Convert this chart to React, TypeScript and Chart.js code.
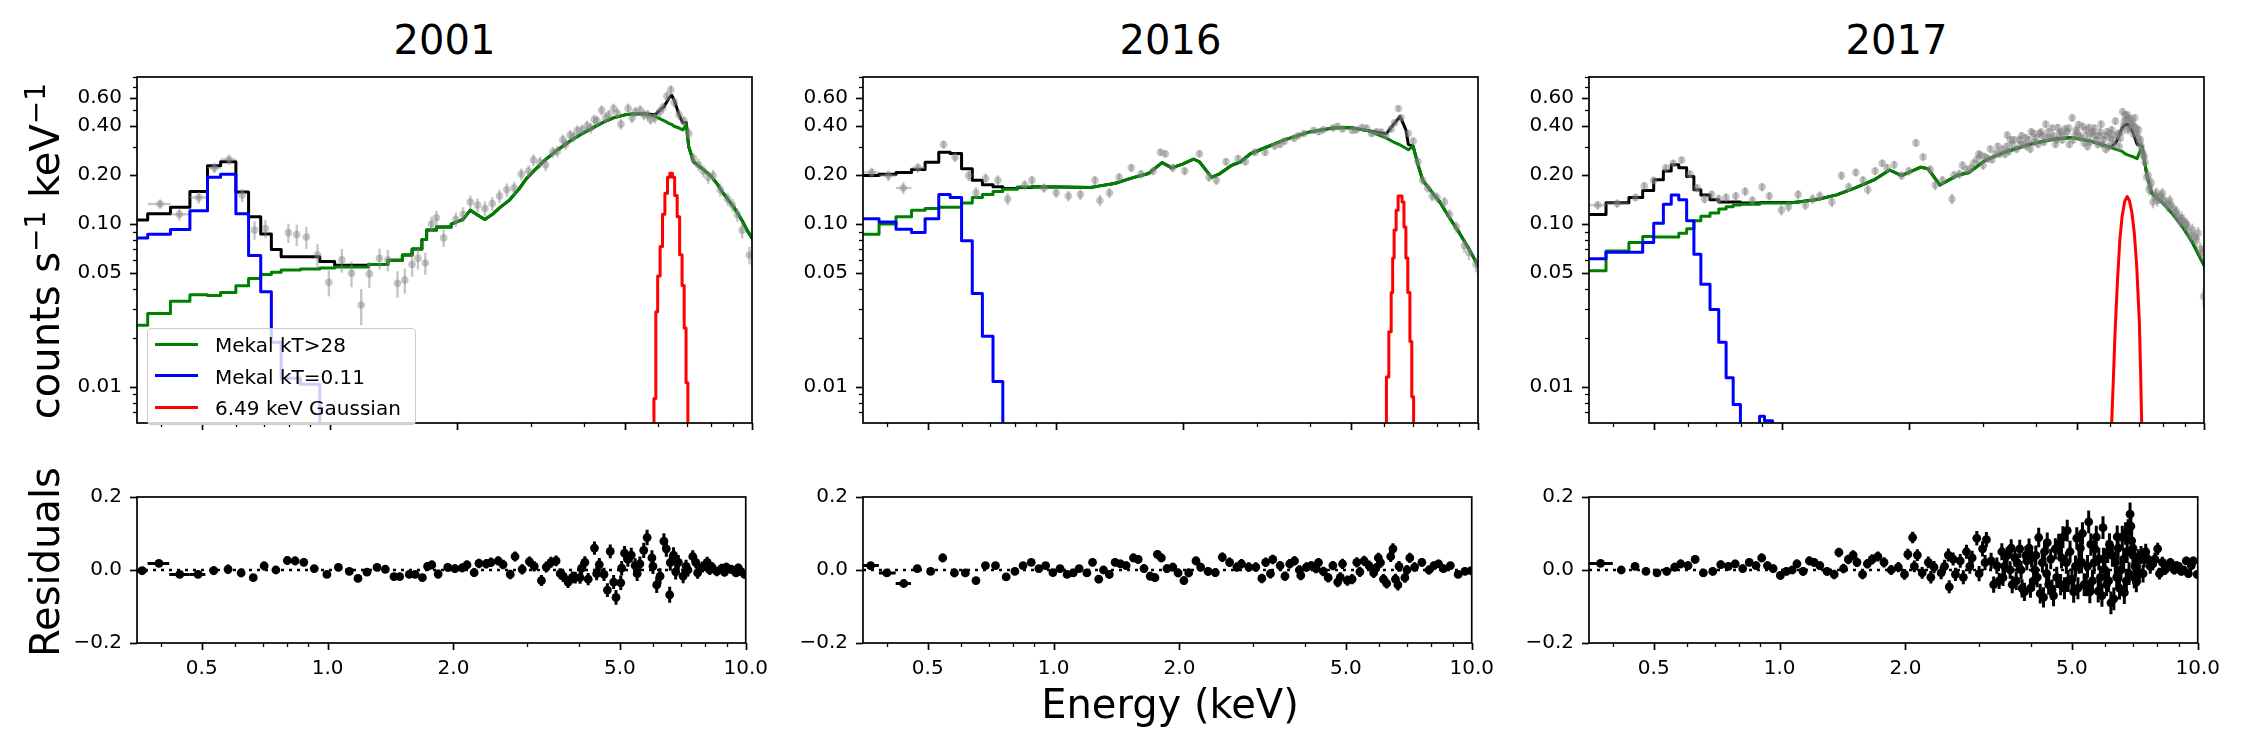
import React, { useEffect, useRef } from "react";
import { Chart, registerables } from "chart.js";

Chart.register(...registerables);
Chart.defaults.font.family = "DejaVu Sans";

// ---------- axis ticks ----------
const energyTicks = [0.5, 1, 2, 5, 10];
const energyTickLabels = ["0.5", "1.0", "2.0", "5.0", "10.0"];
const energyMinorTicks = [0.4, 0.6, 0.7, 0.8, 0.9, 3, 4, 6, 7, 8, 9];
const rateTicks = [0.01, 0.05, 0.1, 0.2, 0.4, 0.6];
const rateTickLabels = ["0.01", "0.05", "0.10", "0.20", "0.40", "0.60"];
const rateMinorTicks = [0.007, 0.008, 0.009, 0.02, 0.03, 0.04, 0.06, 0.07, 0.08, 0.09, 0.3, 0.5, 0.7, 0.8];
const residualTicks = [-0.2, 0, 0.2];
const residualTickLabels = ["\u22120.2", "0.0", "0.2"];
const years = ["2001", "2016", "2017"];
const legendLabels = ["Mekal kT>28", "Mekal kT=0.11", "6.49 keV Gaussian"];

// ---------- 2001 ----------
const modelE2001 = [0.35, 0.371, 0.42, 0.467, 0.514, 0.552, 0.6, 0.643, 0.687, 0.728, 0.768, 0.853, 0.948, 1.028, 1.236, 1.374, 1.487, 1.568, 1.654, 1.697, 1.79, 1.94, 2.07, 2.154, 2.24, 2.33, 2.43, 2.525, 2.66, 2.81, 2.92, 3.04, 3.25, 3.47, 3.71, 3.96, 4.23, 4.46, 4.7, 5.0, 5.3, 5.58, 5.89, 6.2, 6.37, 6.46, 6.54, 6.72, 6.86, 6.99, 7.08, 7.27, 7.58, 7.98, 8.27, 8.53, 8.75, 9.1, 9.48, 9.73, 10.06];
const total2001 = [0.106, 0.116, 0.127, 0.159, 0.229, 0.242, 0.158, 0.111, 0.087, 0.07, 0.063, 0.063, 0.059, 0.056, 0.0566, 0.06, 0.0646, 0.0705, 0.0805, 0.092, 0.096, 0.1, 0.107, 0.122, 0.114, 0.107, 0.115, 0.126, 0.14, 0.165, 0.19, 0.212, 0.25, 0.287, 0.325, 0.36, 0.395, 0.425, 0.45, 0.47, 0.478, 0.478, 0.47, 0.53, 0.6, 0.62, 0.58, 0.47, 0.42, 0.42, 0.3, 0.242, 0.222, 0.199, 0.177, 0.156, 0.143, 0.125, 0.105, 0.092, 0.08];
const hot2001 = [0.0239, 0.0283, 0.0336, 0.0369, 0.0365, 0.038, 0.0419, 0.0464, 0.0491, 0.0507, 0.0523, 0.053, 0.0538, 0.0545, 0.0566, 0.06, 0.0646, 0.0705, 0.0805, 0.092, 0.096, 0.1, 0.107, 0.122, 0.114, 0.107, 0.115, 0.126, 0.14, 0.165, 0.19, 0.212, 0.25, 0.287, 0.325, 0.36, 0.395, 0.425, 0.45, 0.47, 0.478, 0.475, 0.46, 0.432, 0.415, 0.41, 0.4, 0.39, 0.38, 0.41, 0.3, 0.242, 0.222, 0.199, 0.177, 0.156, 0.143, 0.125, 0.105, 0.092, 0.08];
const coolE2001 = [0.35, 0.371, 0.42, 0.467, 0.514, 0.552, 0.6, 0.643, 0.687, 0.728, 0.768, 0.853, 0.948, 1.028];
const cool2001 = [0.0824, 0.0868, 0.0927, 0.121, 0.194, 0.203, 0.116, 0.0642, 0.0385, 0.0188, 0.0113, 0.0104, 0.002, 0.001];
const lineE2001 = [5.8, 5.86, 5.92, 5.98, 6.06, 6.14, 6.22, 6.31, 6.39, 6.48, 6.56, 6.65, 6.74, 6.83, 6.91, 6.98, 7.05, 7.12];
const line2001 = [0.003, 0.0085, 0.029, 0.048, 0.073, 0.115, 0.155, 0.194, 0.206, 0.194, 0.15, 0.111, 0.065, 0.042, 0.023, 0.0106, 0.003, 0.002];

const dataE2001 = [0.397, 0.441, 0.49, 0.534, 0.578, 0.621, 0.664, 0.705, 0.799, 0.836, 0.881, 0.936, 0.996, 1.069, 1.127, 1.188, 1.242, 1.313, 1.374, 1.448, 1.507, 1.568, 1.619, 1.685, 1.743, 1.79, 1.862, 1.99, 2.07, 2.154, 2.241, 2.332, 2.427, 2.525, 2.628, 2.734, 2.844, 2.959, 3.038, 3.15, 3.246, 3.377, 3.46, 3.566, 3.62, 3.71, 3.78, 3.859, 3.96, 4.069, 4.15, 4.233, 4.3, 4.406, 4.5, 4.582, 4.705, 4.8, 4.895, 5.091, 5.2, 5.296, 5.438, 5.55, 5.657, 5.75, 5.886, 6.044, 6.15, 6.289, 6.423, 6.543, 6.719, 6.899, 7.084, 7.275, 7.47, 7.672, 7.878, 8.089, 8.417, 8.754, 8.989, 9.23, 9.478, 9.862];
const dataRate2001 = [0.133, 0.115, 0.146, 0.222, 0.25, 0.151, 0.092, 0.094, 0.0887, 0.0864, 0.0834, 0.0646, 0.044, 0.0604, 0.05, 0.0319, 0.0495, 0.0617, 0.0604, 0.0434, 0.0454, 0.0566, 0.0617, 0.0578, 0.1004, 0.1096, 0.0824, 0.107, 0.115, 0.137, 0.131, 0.125, 0.134, 0.149, 0.163, 0.167, 0.203, 0.212, 0.248, 0.24, 0.232, 0.277, 0.28, 0.33, 0.31, 0.353, 0.345, 0.377, 0.38, 0.403, 0.39, 0.44, 0.43, 0.502, 0.45, 0.47, 0.514, 0.48, 0.412, 0.514, 0.45, 0.491, 0.502, 0.47, 0.47, 0.44, 0.45, 0.491, 0.52, 0.612, 0.669, 0.561, 0.47, 0.43, 0.361, 0.253, 0.232, 0.212, 0.194, 0.199, 0.163, 0.143, 0.131, 0.1146, 0.0919, 0.0646];
const dataErr2001 = [0.009, 0.01, 0.012, 0.016, 0.018, 0.014, 0.012, 0.012, 0.012, 0.013, 0.013, 0.011, 0.008, 0.01, 0.009, 0.008, 0.009, 0.009, 0.009, 0.008, 0.008, 0.009, 0.009, 0.009, 0.011, 0.011, 0.01, 0.011, 0.012, 0.013, 0.013, 0.013, 0.013, 0.014, 0.015, 0.015, 0.017, 0.018, 0.02, 0.02, 0.02, 0.022, 0.022, 0.025, 0.024, 0.026, 0.026, 0.028, 0.028, 0.03, 0.029, 0.032, 0.031, 0.036, 0.033, 0.034, 0.037, 0.035, 0.031, 0.037, 0.033, 0.036, 0.037, 0.035, 0.035, 0.033, 0.034, 0.036, 0.038, 0.043, 0.046, 0.04, 0.035, 0.032, 0.028, 0.021, 0.02, 0.018, 0.017, 0.017, 0.015, 0.013, 0.012, 0.011, 0.01, 0.008];
const dataBinLo2001 = [0.371, 0.42, 0.467, 0.514, 0.552];
const dataBinHi2001 = [0.42, 0.467, 0.514, 0.552, 0.6];

const resE2001 = [0.36, 0.395, 0.443, 0.49, 0.534, 0.578, 0.621, 0.664, 0.705, 0.752, 0.801, 0.836, 0.877, 0.929, 0.996, 1.061, 1.127, 1.182, 1.242, 1.313, 1.374, 1.441, 1.487, 1.568, 1.619, 1.685, 1.734, 1.775, 1.838, 1.938, 2.016, 2.098, 2.154, 2.241, 2.301, 2.395, 2.459, 2.559, 2.628, 2.734, 2.807, 2.92, 3.038, 3.119, 3.246, 3.333, 3.422, 3.519, 3.6, 3.661, 3.759, 3.85, 3.911, 4.016, 4.05, 4.123, 4.2, 4.347, 4.4, 4.464, 4.582, 4.668, 4.742, 4.831, 4.895, 5.025, 5.05, 5.131, 5.226, 5.324, 5.438, 5.5, 5.583, 5.702, 5.809, 5.965, 6.0, 6.125, 6.239, 6.372, 6.457, 6.578, 6.6, 6.719, 6.8, 6.899, 7.084, 7.2, 7.275, 7.47, 7.6, 7.672, 7.878, 8.089, 8.2, 8.306, 8.528, 8.754, 8.9, 8.989, 9.23, 9.478, 9.6, 9.732, 9.94];
const res2001 = [-0.002, 0.018, -0.012, -0.012, -0.002, 0.002, -0.008, -0.021, 0.011, 0.0, 0.026, 0.025, 0.021, 0.004, -0.012, 0.007, -0.004, -0.023, -0.006, 0.007, 0.002, -0.018, -0.018, -0.012, -0.012, -0.021, 0.01, 0.014, -0.011, 0.007, 0.004, 0.006, 0.014, -0.007, 0.018, 0.017, 0.021, 0.025, 0.015, -0.012, 0.037, 0.002, 0.023, 0.01, -0.029, 0.008, 0.021, 0.025, -0.01, -0.017, -0.033, -0.02, -0.021, -0.021, 0.005, 0.021, -0.025, 0.06, -0.01, 0.015, -0.012, -0.055, 0.051, -0.033, -0.075, -0.035, 0.005, 0.046, 0.029, 0.041, 0.012, -0.01, 0.017, 0.054, 0.089, 0.033, 0.01, -0.041, -0.017, 0.079, 0.058, -0.068, 0.02, 0.041, -0.005, 0.021, -0.017, 0.01, 0.0, 0.037, 0.02, -0.008, 0.008, 0.021, 0.0, 0.008, -0.004, 0.004, -0.006, 0.008, 0.002, -0.008, 0.006, -0.004, -0.012];
const resErr2001 = [0.008, 0.008, 0.008, 0.008, 0.012, 0.013, 0.012, 0.01, 0.012, 0.01, 0.012, 0.012, 0.011, 0.01, 0.01, 0.01, 0.01, 0.01, 0.01, 0.01, 0.01, 0.01, 0.01, 0.01, 0.01, 0.01, 0.012, 0.012, 0.012, 0.012, 0.012, 0.012, 0.012, 0.012, 0.013, 0.013, 0.013, 0.013, 0.013, 0.013, 0.014, 0.014, 0.014, 0.014, 0.015, 0.015, 0.015, 0.015, 0.015, 0.016, 0.016, 0.016, 0.016, 0.017, 0.017, 0.017, 0.017, 0.018, 0.018, 0.018, 0.018, 0.019, 0.019, 0.019, 0.02, 0.02, 0.02, 0.02, 0.02, 0.02, 0.02, 0.02, 0.02, 0.021, 0.021, 0.021, 0.021, 0.022, 0.022, 0.022, 0.022, 0.022, 0.022, 0.021, 0.021, 0.02, 0.019, 0.018, 0.018, 0.017, 0.016, 0.016, 0.015, 0.015, 0.014, 0.014, 0.013, 0.013, 0.012, 0.012, 0.012, 0.011, 0.011, 0.011, 0.011];
const resBinLo2001 = [0.35, 0.371, 0.418, 0.467];
const resBinHi2001 = [0.371, 0.418, 0.467, 0.51];

// ---------- 2016 ----------
const modelE2016 = [0.35, 0.382, 0.419, 0.456, 0.491, 0.529, 0.563, 0.599, 0.635, 0.671, 0.711, 0.75, 0.812, 0.879, 1.03, 1.21, 1.273, 1.378, 1.533, 1.66, 1.787, 1.884, 1.997, 2.122, 2.19, 2.341, 2.436, 2.602, 2.743, 2.892, 3.132, 3.481, 3.975, 4.536, 4.976, 5.46, 6.069, 6.31, 6.54, 6.75, 6.84, 7.02, 7.21, 7.4, 7.7, 8.12, 8.56, 9.03, 9.52, 10.06];
const total2016 = [0.199, 0.203, 0.208, 0.217, 0.24, 0.277, 0.272, 0.219, 0.186, 0.175, 0.17, 0.166, 0.168, 0.17, 0.169, 0.168, 0.172, 0.178, 0.194, 0.205, 0.239, 0.222, 0.234, 0.251, 0.242, 0.194, 0.203, 0.229, 0.242, 0.271, 0.295, 0.33, 0.368, 0.39, 0.393, 0.377, 0.36, 0.41, 0.46, 0.38, 0.31, 0.302, 0.232, 0.186, 0.163, 0.137, 0.1096, 0.0887, 0.0705, 0.054];
const hot2016 = [0.0868, 0.1004, 0.111, 0.122, 0.125, 0.127, 0.127, 0.135, 0.146, 0.152, 0.159, 0.164, 0.169, 0.17, 0.169, 0.168, 0.172, 0.178, 0.194, 0.205, 0.239, 0.222, 0.234, 0.251, 0.242, 0.194, 0.203, 0.229, 0.242, 0.271, 0.295, 0.33, 0.368, 0.39, 0.393, 0.377, 0.338, 0.32, 0.307, 0.293, 0.287, 0.302, 0.232, 0.186, 0.163, 0.137, 0.1096, 0.0887, 0.0705, 0.054];
const coolE2016 = [0.35, 0.382, 0.419, 0.456, 0.491, 0.529, 0.563, 0.599, 0.635, 0.671, 0.711, 0.75, 0.812];
const cool2016 = [0.108, 0.103, 0.093, 0.089, 0.108, 0.152, 0.146, 0.079, 0.0375, 0.0205, 0.0108, 0.002, 0.001];
const lineE2016 = [6.0, 6.07, 6.15, 6.23, 6.28, 6.33, 6.4, 6.47, 6.61, 6.68, 6.75, 6.82, 6.9, 6.97, 7.04, 7.11];
const line2016 = [0.003, 0.0115, 0.0218, 0.038, 0.062, 0.092, 0.122, 0.149, 0.137, 0.096, 0.062, 0.038, 0.019, 0.0087, 0.003, 0.002];

const dataE2016 = [0.367, 0.402, 0.436, 0.472, 0.543, 0.578, 0.623, 0.648, 0.683, 0.73, 0.77, 0.845, 0.879, 0.939, 1.003, 1.072, 1.145, 1.239, 1.273, 1.341, 1.414, 1.511, 1.593, 1.702, 1.771, 1.818, 1.893, 2.022, 2.19, 2.307, 2.402, 2.532, 2.705, 2.814, 2.967, 3.132, 3.302, 3.4, 3.481, 3.67, 3.75, 3.87, 4.08, 4.2, 4.3, 4.536, 4.65, 4.78, 5.04, 5.15, 5.31, 5.45, 5.6, 5.75, 5.9, 6.05, 6.23, 6.35, 6.48, 6.57, 6.84, 7.02, 7.21, 7.4, 7.6, 7.79, 8.0, 8.33, 8.56, 8.89, 9.28, 9.52, 9.89];
const dataRate2016 = [0.208, 0.199, 0.167, 0.222, 0.309, 0.258, 0.199, 0.156, 0.191, 0.186, 0.143, 0.174, 0.186, 0.167, 0.156, 0.149, 0.152, 0.186, 0.14, 0.156, 0.194, 0.222, 0.203, 0.212, 0.277, 0.271, 0.222, 0.212, 0.271, 0.194, 0.186, 0.242, 0.253, 0.242, 0.277, 0.277, 0.302, 0.31, 0.324, 0.338, 0.35, 0.361, 0.377, 0.37, 0.38, 0.39, 0.4, 0.385, 0.377, 0.38, 0.393, 0.39, 0.361, 0.37, 0.368, 0.35, 0.385, 0.42, 0.514, 0.45, 0.361, 0.324, 0.242, 0.186, 0.167, 0.149, 0.146, 0.137, 0.1146, 0.096, 0.0737, 0.067, 0.0566];
const dataErr2016 = [0.015, 0.015, 0.014, 0.015, 0.018, 0.017, 0.015, 0.013, 0.014, 0.014, 0.012, 0.012, 0.012, 0.011, 0.011, 0.011, 0.011, 0.012, 0.011, 0.011, 0.012, 0.013, 0.012, 0.012, 0.014, 0.014, 0.013, 0.012, 0.014, 0.012, 0.012, 0.013, 0.013, 0.013, 0.014, 0.014, 0.015, 0.015, 0.015, 0.016, 0.016, 0.016, 0.017, 0.017, 0.017, 0.017, 0.017, 0.017, 0.017, 0.017, 0.018, 0.018, 0.017, 0.017, 0.017, 0.017, 0.018, 0.019, 0.022, 0.02, 0.017, 0.016, 0.013, 0.012, 0.011, 0.011, 0.011, 0.01, 0.009, 0.008, 0.007, 0.007, 0.006];
const dataBinLo2016 = [0.35, 0.382, 0.419, 0.456];
const dataBinHi2016 = [0.382, 0.419, 0.456, 0.491];

const resE2016 = [0.365, 0.399, 0.438, 0.472, 0.508, 0.543, 0.579, 0.615, 0.652, 0.687, 0.726, 0.77, 0.808, 0.845, 0.884, 0.922, 0.957, 0.996, 1.036, 1.077, 1.114, 1.151, 1.201, 1.239, 1.282, 1.316, 1.359, 1.403, 1.445, 1.491, 1.552, 1.593, 1.645, 1.702, 1.747, 1.771, 1.81, 1.867, 1.928, 1.985, 2.049, 2.104, 2.19, 2.247, 2.341, 2.436, 2.532, 2.635, 2.743, 2.814, 2.929, 3.046, 3.148, 3.215, 3.3, 3.343, 3.481, 3.575, 3.67, 3.769, 3.87, 3.9, 4.026, 4.133, 4.244, 4.3, 4.416, 4.536, 4.655, 4.78, 4.85, 4.908, 5.04, 5.175, 5.31, 5.4, 5.53, 5.678, 5.826, 5.9, 5.98, 6.05, 6.15, 6.26, 6.4, 6.48, 6.57, 6.66, 6.7, 6.92, 7.0, 7.11, 7.3, 7.6, 7.9, 8.12, 8.33, 8.56, 8.89, 9.28, 9.63, 9.97];
const res2016 = [0.012, -0.008, -0.037, 0.004, -0.004, 0.033, -0.008, -0.008, -0.029, 0.012, 0.012, -0.019, -0.004, 0.012, 0.021, 0.004, 0.012, -0.007, 0.004, -0.012, -0.008, 0.004, -0.008, 0.021, -0.025, 0.0, -0.012, 0.021, 0.017, 0.012, 0.033, 0.029, 0.004, -0.017, -0.021, 0.043, 0.033, 0.004, 0.008, -0.008, -0.029, -0.008, 0.025, 0.008, -0.004, -0.007, 0.035, 0.021, 0.008, 0.017, 0.008, 0.008, -0.023, 0.021, -0.01, 0.029, 0.012, -0.017, 0.017, 0.025, 0.0, -0.015, 0.008, 0.012, 0.004, 0.02, -0.004, -0.021, 0.012, -0.033, -0.02, 0.017, -0.029, -0.025, 0.021, -0.005, 0.025, 0.012, -0.008, 0.005, 0.033, 0.02, -0.025, -0.037, 0.037, 0.058, -0.025, -0.041, 0.01, -0.021, 0.0, 0.033, 0.008, 0.021, 0.0, 0.012, 0.017, 0.004, 0.012, -0.012, -0.004, -0.002];
const resErr2016 = [0.01, 0.01, 0.01, 0.01, 0.01, 0.012, 0.012, 0.011, 0.01, 0.01, 0.01, 0.01, 0.01, 0.01, 0.01, 0.01, 0.01, 0.01, 0.01, 0.01, 0.01, 0.01, 0.01, 0.011, 0.011, 0.011, 0.011, 0.011, 0.011, 0.011, 0.012, 0.012, 0.012, 0.012, 0.012, 0.012, 0.012, 0.012, 0.012, 0.012, 0.012, 0.012, 0.012, 0.012, 0.012, 0.012, 0.013, 0.013, 0.013, 0.013, 0.013, 0.013, 0.013, 0.013, 0.013, 0.013, 0.013, 0.013, 0.013, 0.013, 0.013, 0.013, 0.013, 0.013, 0.013, 0.013, 0.013, 0.013, 0.013, 0.014, 0.014, 0.014, 0.014, 0.014, 0.014, 0.014, 0.014, 0.014, 0.014, 0.014, 0.014, 0.014, 0.014, 0.014, 0.015, 0.015, 0.015, 0.015, 0.015, 0.014, 0.014, 0.014, 0.013, 0.012, 0.012, 0.011, 0.011, 0.011, 0.01, 0.01, 0.01, 0.01];
const resBinLo2016 = [0.35, 0.382, 0.419];
const resBinHi2016 = [0.382, 0.419, 0.456];

// ---------- 2017 ----------
const modelE2017 = [0.35, 0.384, 0.435, 0.469, 0.498, 0.525, 0.548, 0.571, 0.596, 0.62, 0.644, 0.677, 0.71, 0.739, 0.768, 0.799, 0.842, 0.887, 1.038, 1.094, 1.215, 1.35, 1.499, 1.665, 1.801, 1.923, 2.135, 2.22, 2.371, 2.598, 2.775, 3.042, 3.378, 3.85, 4.389, 4.874, 5.414, 6.013, 6.2, 6.4, 6.503, 6.62, 6.78, 6.945, 7.13, 7.32, 7.51, 8.02, 8.45, 8.91, 9.39, 10.15];
const total2017 = [0.1146, 0.1356, 0.146, 0.161, 0.1878, 0.212, 0.232, 0.222, 0.1963, 0.163, 0.151, 0.1415, 0.137, 0.137, 0.137, 0.135, 0.135, 0.136, 0.1349, 0.137, 0.142, 0.1515, 0.168, 0.1887, 0.2153, 0.199, 0.224, 0.2195, 0.1741, 0.199, 0.208, 0.248, 0.277, 0.309, 0.333, 0.341, 0.323, 0.296, 0.32, 0.39, 0.41, 0.41, 0.37, 0.31, 0.302, 0.203, 0.156, 0.134, 0.1146, 0.096, 0.0771, 0.0518];
const hot2017 = [0.0518, 0.0684, 0.0771, 0.0841, 0.0834, 0.0834, 0.0834, 0.0879, 0.0939, 0.1049, 0.112, 0.1171, 0.1241, 0.1279, 0.131, 0.1325, 0.1325, 0.1349, 0.1349, 0.137, 0.142, 0.1515, 0.168, 0.1887, 0.2153, 0.199, 0.224, 0.2195, 0.1741, 0.199, 0.208, 0.248, 0.277, 0.309, 0.333, 0.341, 0.323, 0.296, 0.288, 0.28, 0.271, 0.266, 0.26, 0.253, 0.302, 0.203, 0.156, 0.134, 0.1146, 0.096, 0.0771, 0.0518];
const coolE2017 = [0.35, 0.384, 0.435, 0.469, 0.498, 0.525, 0.548, 0.571, 0.596, 0.62, 0.644, 0.677, 0.71, 0.739, 0.768, 0.799, 0.887, 0.911, 0.952, 1.0];
const cool2017 = [0.0613, 0.0672, 0.0672, 0.0771, 0.1013, 0.1325, 0.151, 0.1415, 0.1049, 0.0654, 0.0428, 0.0299, 0.0188, 0.0114, 0.0078, 0.0059, 0.0066, 0.0062, 0.003, 0.001];
const lineE2017 = [6.03, 6.1, 6.16, 6.24, 6.32, 6.4, 6.49, 6.58, 6.66, 6.75, 6.84, 6.93, 7.03, 7.08, 7.13];
const line2017 = [0.005, 0.011, 0.022, 0.045, 0.08, 0.112, 0.138, 0.148, 0.14, 0.118, 0.088, 0.055, 0.025, 0.012, 0.005];

const dataE2017 = [0.367, 0.408, 0.451, 0.473, 0.498, 0.532, 0.554, 0.58, 0.607, 0.631, 0.657, 0.683, 0.71, 0.739, 0.779, 0.82, 0.853, 0.899, 0.935, 0.999, 1.038, 1.094, 1.138, 1.184, 1.231, 1.315, 1.386, 1.441, 1.499, 1.559, 1.6, 1.665, 1.731, 1.777, 1.848, 1.923, 2.0, 2.08, 2.163, 2.25, 2.31, 2.403, 2.532, 2.633, 2.739, 2.848, 2.9, 2.962, 3.0, 3.081, 3.12, 3.205, 3.25, 3.333, 3.38, 3.422, 3.45, 3.513, 3.55, 3.654, 3.7, 3.75, 3.8, 3.85, 3.9, 3.952, 4.0, 4.05, 4.111, 4.15, 4.22, 4.28, 4.332, 4.4, 4.45, 4.506, 4.55, 4.62, 4.686, 4.75, 4.8, 4.874, 4.95, 5.003, 5.05, 5.12, 5.204, 5.25, 5.3, 5.343, 5.4, 5.5, 5.557, 5.6, 5.65, 5.705, 5.78, 5.856, 5.9, 5.95, 6.013, 6.08, 6.17, 6.25, 6.3, 6.334, 6.418, 6.45, 6.503, 6.55, 6.6, 6.641, 6.7, 6.763, 6.8, 6.852, 6.9, 6.98, 7.036, 7.1, 7.185, 7.25, 7.32, 7.414, 7.45, 7.57, 7.65, 7.71, 7.8, 7.915, 8.0, 8.125, 8.2, 8.342, 8.45, 8.564, 8.7, 8.792, 8.9, 9.023, 9.15, 9.39, 9.5, 9.685, 9.8, 9.893, 9.98];
const dataRate2017 = [0.131, 0.134, 0.146, 0.172, 0.186, 0.222, 0.237, 0.248, 0.203, 0.167, 0.143, 0.152, 0.143, 0.146, 0.149, 0.159, 0.14, 0.169, 0.149, 0.122, 0.128, 0.152, 0.131, 0.143, 0.149, 0.137, 0.199, 0.169, 0.208, 0.186, 0.163, 0.212, 0.237, 0.222, 0.232, 0.199, 0.212, 0.316, 0.259, 0.217, 0.174, 0.186, 0.143, 0.203, 0.217, 0.237, 0.25, 0.265, 0.23, 0.253, 0.29, 0.271, 0.3, 0.289, 0.27, 0.353, 0.28, 0.309, 0.33, 0.33, 0.35, 0.31, 0.302, 0.33, 0.37, 0.361, 0.34, 0.31, 0.369, 0.35, 0.412, 0.37, 0.338, 0.35, 0.31, 0.393, 0.36, 0.33, 0.385, 0.37, 0.31, 0.45, 0.35, 0.369, 0.41, 0.34, 0.316, 0.38, 0.3, 0.393, 0.36, 0.39, 0.33, 0.31, 0.35, 0.412, 0.33, 0.289, 0.37, 0.3, 0.361, 0.33, 0.43, 0.36, 0.3, 0.338, 0.491, 0.4, 0.47, 0.44, 0.38, 0.45, 0.41, 0.412, 0.36, 0.45, 0.39, 0.34, 0.316, 0.3, 0.265, 0.24, 0.194, 0.163, 0.17, 0.137, 0.15, 0.156, 0.145, 0.149, 0.14, 0.137, 0.13, 0.131, 0.125, 0.1171, 0.11, 0.1049, 0.105, 0.1004, 0.095, 0.0919, 0.083, 0.0879, 0.07, 0.0672, 0.036];
const dataErr2017 = [0.008, 0.008, 0.008, 0.009, 0.01, 0.011, 0.012, 0.012, 0.011, 0.01, 0.009, 0.009, 0.009, 0.009, 0.009, 0.01, 0.009, 0.01, 0.009, 0.009, 0.009, 0.01, 0.009, 0.01, 0.01, 0.01, 0.012, 0.011, 0.012, 0.012, 0.011, 0.012, 0.013, 0.013, 0.013, 0.012, 0.013, 0.016, 0.014, 0.013, 0.012, 0.012, 0.011, 0.013, 0.013, 0.014, 0.015, 0.015, 0.014, 0.015, 0.016, 0.015, 0.017, 0.016, 0.016, 0.018, 0.016, 0.017, 0.018, 0.018, 0.018, 0.017, 0.017, 0.018, 0.019, 0.019, 0.018, 0.017, 0.019, 0.018, 0.02, 0.019, 0.018, 0.018, 0.017, 0.02, 0.019, 0.018, 0.02, 0.019, 0.017, 0.022, 0.019, 0.019, 0.021, 0.019, 0.018, 0.02, 0.017, 0.02, 0.019, 0.02, 0.019, 0.018, 0.019, 0.021, 0.019, 0.017, 0.02, 0.018, 0.02, 0.019, 0.022, 0.02, 0.018, 0.019, 0.024, 0.021, 0.023, 0.022, 0.021, 0.023, 0.022, 0.022, 0.02, 0.023, 0.021, 0.02, 0.019, 0.018, 0.017, 0.016, 0.014, 0.013, 0.013, 0.012, 0.012, 0.012, 0.012, 0.012, 0.011, 0.011, 0.011, 0.011, 0.01, 0.01, 0.01, 0.01, 0.009, 0.009, 0.009, 0.009, 0.008, 0.008, 0.007, 0.007, 0.005];
const dataBinLo2017 = [0.35, 0.384];
const dataBinHi2017 = [0.384, 0.435];
// the 2017 spectrum is finely binned above 2.5 keV: the remaining channels
const denseE2017 = [2.56, 2.68, 2.8, 2.93, 3.03, 3.15, 3.28, 3.41, 3.48, 3.6, 3.68, 3.78, 3.88, 3.97, 4.08, 4.18, 4.25, 4.37, 4.48, 4.58, 4.66, 4.78, 4.9, 4.98, 5.08, 5.16, 5.28, 5.37, 5.45, 5.53, 5.68, 5.74, 5.83, 5.98, 6.05, 6.12, 6.2, 6.38, 6.48, 6.58, 6.68, 6.73, 6.83, 6.94, 7.0, 7.07, 7.15, 7.22, 7.37, 7.5, 7.75, 7.97, 8.3, 8.6, 8.85, 9.1, 9.3, 9.6];
const denseRate2017 = [0.2, 0.23, 0.22, 0.27, 0.26, 0.25, 0.27, 0.3, 0.33, 0.29, 0.31, 0.34, 0.29, 0.32, 0.36, 0.32, 0.34, 0.39, 0.33, 0.37, 0.35, 0.39, 0.33, 0.38, 0.35, 0.4, 0.35, 0.32, 0.37, 0.35, 0.37, 0.31, 0.35, 0.34, 0.38, 0.31, 0.35, 0.37, 0.43, 0.47, 0.39, 0.44, 0.4, 0.36, 0.38, 0.33, 0.28, 0.26, 0.2, 0.18, 0.14, 0.155, 0.14, 0.12, 0.11, 0.1, 0.085, 0.08];
const denseErr2017 = [0.013, 0.014, 0.014, 0.015, 0.015, 0.015, 0.016, 0.017, 0.018, 0.017, 0.017, 0.018, 0.017, 0.018, 0.019, 0.018, 0.018, 0.02, 0.018, 0.019, 0.019, 0.02, 0.018, 0.02, 0.019, 0.021, 0.019, 0.018, 0.02, 0.019, 0.02, 0.018, 0.019, 0.019, 0.02, 0.018, 0.019, 0.02, 0.022, 0.023, 0.021, 0.022, 0.021, 0.02, 0.02, 0.019, 0.017, 0.017, 0.015, 0.014, 0.012, 0.012, 0.011, 0.01, 0.01, 0.009, 0.008, 0.008];

const resE2017 = [0.373, 0.418, 0.451, 0.479, 0.509, 0.537, 0.561, 0.58, 0.604, 0.628, 0.657, 0.692, 0.723, 0.754, 0.783, 0.816, 0.846, 0.878, 0.906, 0.935, 0.965, 1.004, 1.038, 1.072, 1.1, 1.138, 1.178, 1.209, 1.248, 1.298, 1.35, 1.386, 1.422, 1.46, 1.499, 1.531, 1.579, 1.621, 1.665, 1.718, 1.777, 1.848, 1.923, 1.989, 2.026, 2.08, 2.135, 2.192, 2.268, 2.34, 2.434, 2.532, 2.545, 2.633, 2.704, 2.798, 2.887, 2.962, 3.058, 3.123, 3.205, 3.308, 3.35, 3.422, 3.5, 3.559, 3.6, 3.654, 3.7, 3.752, 3.8, 3.85, 3.902, 3.95, 4.005, 4.05, 4.1, 4.165, 4.2, 4.25, 4.277, 4.366, 4.4, 4.482, 4.565, 4.6, 4.65, 4.722, 4.8, 4.874, 4.95, 5.003, 5.05, 5.137, 5.2, 5.274, 5.35, 5.414, 5.485, 5.55, 5.6, 5.676, 5.781, 5.85, 5.935, 5.95, 6.05, 6.091, 6.15, 6.2, 6.3, 6.35, 6.418, 6.5, 6.6, 6.675, 6.75, 6.817, 6.889, 6.95, 6.998, 7.05, 7.13, 7.2, 7.32, 7.4, 7.51, 7.6, 7.81, 8.02, 8.1, 8.23, 8.45, 8.6, 8.79, 9.0, 9.14, 9.39, 9.5, 9.76, 9.97];
const res2017 = [0.018, 0.0, 0.01, -0.004, -0.008, -0.004, 0.008, 0.017, 0.012, 0.029, -0.008, -0.004, 0.015, 0.01, 0.017, 0.004, 0.021, 0.012, 0.033, 0.012, 0.004, -0.015, -0.004, 0.0, 0.017, -0.004, 0.025, 0.021, 0.012, -0.004, -0.012, 0.048, 0.004, 0.029, 0.041, 0.021, -0.012, 0.017, 0.029, 0.037, 0.021, 0.0, 0.008, -0.012, 0.043, 0.089, 0.041, -0.008, 0.021, 0.008, -0.008, 0.041, -0.046, -0.012, 0.025, 0.05, 0.033, 0.087, 0.058, 0.083, 0.025, 0.012, -0.03, -0.021, 0.04, 0.0, -0.04, 0.033, 0.02, 0.058, -0.05, -0.06, 0.025, 0.06, 0.033, -0.03, 0.04, 0.089, -0.065, 0.02, -0.075, 0.075, -0.04, -0.054, 0.058, -0.02, 0.07, 0.033, -0.05, 0.108, 0.05, -0.025, -0.06, 0.087, 0.02, 0.021, -0.04, -0.041, 0.132, 0.07, -0.03, 0.058, -0.058, -0.02, 0.116, 0.03, -0.04, 0.05, 0.07, -0.09, -0.079, 0.02, 0.091, -0.05, 0.09, -0.062, -0.03, 0.108, 0.153, 0.08, 0.041, -0.02, -0.033, 0.03, 0.041, -0.01, 0.05, 0.03, 0.017, 0.058, -0.01, 0.021, 0.008, 0.02, 0.0, 0.01, -0.004, 0.025, -0.01, 0.025, -0.012];
const resErr2017 = [0.006, 0.01, 0.01, 0.01, 0.011, 0.011, 0.012, 0.012, 0.012, 0.012, 0.011, 0.011, 0.011, 0.011, 0.011, 0.011, 0.011, 0.011, 0.012, 0.011, 0.011, 0.011, 0.011, 0.011, 0.012, 0.012, 0.012, 0.012, 0.012, 0.012, 0.013, 0.013, 0.013, 0.013, 0.013, 0.013, 0.013, 0.013, 0.014, 0.014, 0.014, 0.014, 0.014, 0.015, 0.015, 0.016, 0.016, 0.016, 0.016, 0.017, 0.017, 0.018, 0.018, 0.018, 0.019, 0.019, 0.02, 0.02, 0.021, 0.021, 0.022, 0.022, 0.022, 0.023, 0.023, 0.024, 0.024, 0.024, 0.025, 0.025, 0.025, 0.025, 0.026, 0.026, 0.026, 0.026, 0.027, 0.027, 0.027, 0.027, 0.028, 0.028, 0.028, 0.028, 0.029, 0.029, 0.029, 0.029, 0.03, 0.03, 0.03, 0.03, 0.03, 0.03, 0.03, 0.03, 0.031, 0.031, 0.031, 0.031, 0.031, 0.031, 0.031, 0.031, 0.031, 0.031, 0.031, 0.031, 0.031, 0.031, 0.031, 0.031, 0.031, 0.031, 0.031, 0.031, 0.031, 0.031, 0.032, 0.031, 0.03, 0.03, 0.028, 0.027, 0.025, 0.024, 0.022, 0.021, 0.018, 0.017, 0.016, 0.015, 0.014, 0.013, 0.012, 0.012, 0.011, 0.011, 0.011, 0.011, 0.011];
const resBinLo2017 = [0.35];
const resBinHi2017 = [0.399];
const denseResE2017 = [2.1, 2.3, 2.48, 2.6, 2.75, 2.85, 3.0, 3.1, 3.25, 3.4, 3.45, 3.58, 3.68, 3.78, 3.88, 3.98, 4.08, 4.13, 4.3, 4.35, 4.45, 4.52, 4.7, 4.76, 4.85, 4.9, 5.1, 5.17, 5.24, 5.3, 5.45, 5.52, 5.65, 5.72, 5.8, 5.9, 6.0, 6.12, 6.25, 6.4, 6.45, 6.55, 6.65, 6.72, 6.78, 6.85, 6.92, 7.0, 7.08, 7.25, 7.45, 7.7, 7.9, 8.35, 8.9, 9.25, 9.65];
const denseRes2017 = [0.01, -0.02, 0.01, 0.03, -0.02, 0.01, -0.01, 0.02, -0.04, 0.05, 0.01, 0.06, -0.03, 0.0, 0.04, -0.05, 0.0, -0.02, 0.05, -0.01, 0.03, -0.07, -0.04, 0.09, 0.02, -0.03, 0.01, -0.05, 0.06, 0.1, 0.01, -0.06, 0.02, 0.09, 0.03, -0.07, 0.0, -0.03, 0.04, -0.02, 0.06, 0.0, 0.03, 0.1, 0.05, -0.01, 0.12, 0.06, 0.01, -0.01, 0.03, 0.01, 0.03, 0.0, 0.012, 0.0, 0.012];
const denseResErr2017 = [0.016, 0.017, 0.018, 0.018, 0.019, 0.02, 0.021, 0.021, 0.022, 0.023, 0.023, 0.024, 0.025, 0.025, 0.026, 0.026, 0.026, 0.027, 0.028, 0.028, 0.028, 0.029, 0.029, 0.03, 0.03, 0.03, 0.03, 0.03, 0.03, 0.031, 0.031, 0.031, 0.031, 0.031, 0.031, 0.031, 0.031, 0.031, 0.031, 0.031, 0.031, 0.031, 0.031, 0.031, 0.031, 0.031, 0.032, 0.03, 0.029, 0.026, 0.023, 0.02, 0.018, 0.014, 0.012, 0.011, 0.011];

// ---------- panels ----------
const panels = [
  { year: years[0], modelE: modelE2001, total: total2001, hot: hot2001, stepBelow: 1.9, coolE: coolE2001, cool: cool2001, lineE: lineE2001, line: line2001, lineStepped: true,
    dataE: dataE2001, dataRate: dataRate2001, dataErr: dataErr2001, dataBinLo: dataBinLo2001, dataBinHi: dataBinHi2001,
    resE: resE2001, res: res2001, resErr: resErr2001, resBinLo: resBinLo2001, resBinHi: resBinHi2001 },
  { year: years[1], modelE: modelE2016, total: total2016, hot: hot2016, stepBelow: 0.85, coolE: coolE2016, cool: cool2016, lineE: lineE2016, line: line2016, lineStepped: true,
    dataE: dataE2016, dataRate: dataRate2016, dataErr: dataErr2016, dataBinLo: dataBinLo2016, dataBinHi: dataBinHi2016,
    resE: resE2016, res: res2016, resErr: resErr2016, resBinLo: resBinLo2016, resBinHi: resBinHi2016 },
  { year: years[2], modelE: modelE2017, total: total2017, hot: hot2017, stepBelow: 1.0, coolE: coolE2017, cool: cool2017, lineE: lineE2017, line: line2017, lineStepped: false,
    dataE: [...dataE2017, ...denseE2017], dataRate: [...dataRate2017, ...denseRate2017], dataErr: [...dataErr2017, ...denseErr2017],
    dataBinLo: dataBinLo2017, dataBinHi: dataBinHi2017,
    resE: [...resE2017, ...denseResE2017], res: [...res2017, ...denseRes2017], resErr: [...resErr2017, ...denseResErr2017],
    resBinLo: resBinLo2017, resBinHi: resBinHi2017 },
];

// ---------- layout ----------
const PANEL_LEFT = [137, 863, 1589];
const PANEL_W = 615;
const FONT = "DejaVu Sans";
const DATA_GRAY = "rgba(128,128,128,0.45)";
const COLORS = { total: "#000000", hot: "#008000", cool: "#0000ff", line: "#ff0000" };

// model histogram: bins below stepBelow are drawn as flat steps, the rest as a polyline
function stepPath(E: number[], V: number[], stepBelow: number) {
  const pts: { x: number; y: number }[] = [];
  for (let i = 0; i < E.length; i++) {
    pts.push({ x: E[i], y: V[i] });
    if (E[i] < stepBelow && i + 1 < E.length) pts.push({ x: E[i + 1], y: V[i] });
  }
  return pts;
}
function points(E: number[], V: number[]) {
  return E.map((e, i) => ({ x: e, y: V[i] }));
}

// error bars drawn through the chart scales, just before the dataset's markers
const errorBarPlugin = {
  id: "errorBars",
  beforeDatasetDraw(chart: any, args: any) {
    const ds = chart.data.datasets[args.index];
    const eb = ds.errorBars;
    if (!eb) return;
    const { ctx, chartArea: a } = chart;
    const xs = chart.scales.x;
    const ys = chart.scales.y;
    ctx.save();
    ctx.beginPath();
    ctx.rect(a.left, a.top, a.right - a.left, a.bottom - a.top);
    ctx.clip();
    ctx.strokeStyle = eb.color;
    ctx.lineWidth = eb.width;
    ds.data.forEach((p: any, i: number) => {
      const err = eb.yErr[i] ?? 0;
      const x = xs.getPixelForValue(p.x);
      const lo = Math.max(p.y - err, eb.floor);
      ctx.beginPath();
      ctx.moveTo(x, ys.getPixelForValue(lo));
      ctx.lineTo(x, ys.getPixelForValue(p.y + err));
      ctx.stroke();
      if (i < eb.xLo.length) {
        const y = ys.getPixelForValue(p.y);
        ctx.beginPath();
        ctx.moveTo(xs.getPixelForValue(eb.xLo[i]), y);
        ctx.lineTo(xs.getPixelForValue(eb.xHi[i]), y);
        ctx.stroke();
      }
    });
    ctx.restore();
  },
};

// axes box with outward major/minor tick marks
function framePlugin(yMajor: number[], yMinor: number[]) {
  return {
    id: "frame",
    afterDatasetsDraw(chart: any) {
      const { ctx, chartArea: a } = chart;
      const xs = chart.scales.x;
      const ys = chart.scales.y;
      ctx.save();
      ctx.strokeStyle = "#000";
      const tickX = (vals: number[], len: number, w: number) => {
        ctx.lineWidth = w;
        vals.forEach((v) => {
          const x = Math.round(xs.getPixelForValue(v)) + 0.5;
          ctx.beginPath();
          ctx.moveTo(x, a.bottom);
          ctx.lineTo(x, a.bottom + len);
          ctx.stroke();
        });
      };
      const tickY = (vals: number[], len: number, w: number) => {
        ctx.lineWidth = w;
        vals.forEach((v) => {
          const y = Math.round(ys.getPixelForValue(v)) + 0.5;
          ctx.beginPath();
          ctx.moveTo(a.left, y);
          ctx.lineTo(a.left - len, y);
          ctx.stroke();
        });
      };
      tickX(energyTicks, 7, 1.7);
      tickX(energyMinorTicks, 4, 1.3);
      tickY(yMajor, 7, 1.7);
      tickY(yMinor, 4, 1.3);
      ctx.lineWidth = 1.7;
      ctx.strokeRect(a.left, a.top, a.right - a.left, a.bottom - a.top);
      ctx.restore();
    },
  };
}

const tickFont = { family: FONT, size: 20 };

function spectrumConfig(p: any) {
  const line = (data: any, color: string, order: number) => ({
    data, showLine: true, borderColor: color, borderWidth: 3, pointRadius: 0, borderJoinStyle: "round",
    fill: false, order, clip: 0,
  });
  return {
    type: "scatter",
    data: {
      datasets: [
        line(stepPath(p.modelE, p.total, p.stepBelow), COLORS.total, 6),
        line(stepPath(p.modelE, p.hot, p.stepBelow), COLORS.hot, 5),
        {
          data: points(p.dataE, p.dataRate), showLine: false, pointRadius: 3.8, pointBorderWidth: 0,
          pointBackgroundColor: DATA_GRAY, order: 4, clip: 0,
          errorBars: { yErr: p.dataErr, xLo: p.dataBinLo, xHi: p.dataBinHi, color: DATA_GRAY, width: 2.4, floor: 1e-4 },
        },
        line(stepPath(p.coolE, p.cool, 100), COLORS.cool, 3),
        line(stepPath(p.lineE, p.line, p.lineStepped ? 100 : 0), COLORS.line, 2),
      ],
    },
    options: {
      animation: false, responsive: false, maintainAspectRatio: false, devicePixelRatio: 1, events: [],
      layout: { padding: { left: 30, right: 30, top: 16, bottom: 14 }, autoPadding: false },
      plugins: { legend: { display: false }, tooltip: { enabled: false }, title: { display: false } },
      scales: {
        x: { type: "logarithmic", min: 0.35, max: 10, bounds: "data", display: false },
        y: {
          type: "logarithmic", min: 0.006, max: 0.803, bounds: "data", position: "left",
          afterBuildTicks: (s: any) => { s.ticks = rateTicks.map((v) => ({ value: v })); },
          afterFit: (s: any) => { s.width = 70; },
          grid: { display: false, drawTicks: false }, border: { display: false },
          ticks: { callback: (_v: any, i: number) => rateTickLabels[i], font: tickFont, color: "#000", padding: 15, autoSkip: false, maxRotation: 0 },
        },
      },
    },
    plugins: [errorBarPlugin, framePlugin(rateTicks, rateMinorTicks)],
  };
}

function residualConfig(p: any) {
  return {
    type: "scatter",
    data: {
      datasets: [
        {
          data: [{ x: 0.35, y: 0 }, { x: 10, y: 0 }], showLine: true, borderColor: "#000", borderWidth: 2.6,
          borderDash: [3, 5], pointRadius: 0, order: 2, clip: 0,
        },
        {
          data: points(p.resE, p.res), showLine: false, pointRadius: 4.4, pointBorderWidth: 0,
          pointBackgroundColor: "#000", order: 1, clip: 0,
          errorBars: { yErr: p.resErr, xLo: p.resBinLo, xHi: p.resBinHi, color: "#000", width: 3, floor: -1 },
        },
      ],
    },
    options: {
      animation: false, responsive: false, maintainAspectRatio: false, devicePixelRatio: 1, events: [],
      layout: { padding: { left: 30, right: 30, top: 12, bottom: 10 }, autoPadding: false },
      plugins: { legend: { display: false }, tooltip: { enabled: false }, title: { display: false } },
      scales: {
        x: {
          type: "logarithmic", min: 0.35, max: 10, bounds: "data", position: "bottom",
          afterBuildTicks: (s: any) => { s.ticks = energyTicks.map((v) => ({ value: v })); },
          afterFit: (s: any) => { s.height = 40; },
          grid: { display: false, drawTicks: false }, border: { display: false },
          ticks: { callback: (_v: any, i: number) => energyTickLabels[i], font: tickFont, color: "#000", padding: 14, autoSkip: false, maxRotation: 0, minRotation: 0 },
        },
        y: {
          type: "linear", min: -0.2, max: 0.2, position: "left",
          afterBuildTicks: (s: any) => { s.ticks = residualTicks.map((v) => ({ value: v })); },
          afterFit: (s: any) => { s.width = 70; },
          grid: { display: false, drawTicks: false }, border: { display: false },
          ticks: { callback: (_v: any, i: number) => residualTickLabels[i], font: tickFont, color: "#000", padding: 15, autoSkip: false },
        },
      },
    },
    plugins: [errorBarPlugin, framePlugin(residualTicks, [])],
  };
}

function ChartCanvas({ make, left, top, width, height }: any) {
  const ref = useRef<HTMLCanvasElement>(null);
  useEffect(() => {
    const chart = new Chart(ref.current as HTMLCanvasElement, make() as any);
    return () => chart.destroy();
  }, []);
  return (
    <canvas
      ref={ref}
      width={width}
      height={height}
      style={{ position: "absolute", left, top, width, height }}
    />
  );
}

const sup = { fontSize: "0.7em", verticalAlign: "0.5em", lineHeight: 0 } as const;

function Legend() {
  const colors = [COLORS.hot, COLORS.cool, COLORS.line];
  return (
    <div
      style={{
        position: "absolute", left: 147, top: 328, width: 269, height: 97, boxSizing: "border-box",
        border: "1px solid #cccccc", borderRadius: 4, background: "rgba(255,255,255,0.8)", zIndex: 2,
      }}
    >
      {legendLabels.map((label, i) => (
        <React.Fragment key={label}>
          <div style={{ position: "absolute", left: 7, top: 13.5 + 31.5 * i, width: 43, height: 3, background: colors[i] }} />
          <div style={{ position: "absolute", left: 67, top: 6 + 31.5 * i, fontSize: 20, lineHeight: "20px", whiteSpace: "nowrap", color: "#000" }}>
            {label}
          </div>
        </React.Fragment>
      ))}
    </div>
  );
}

export default function App() {
  return (
    <div
      style={{
        position: "absolute", left: 0, top: 0, width: 2250, height: 750, background: "#fff",
        overflow: "hidden", fontFamily: FONT, color: "#000",
      }}
    >
      {panels.map((p, i) => (
        <React.Fragment key={p.year}>
          <div
            style={{
              position: "absolute", left: PANEL_LEFT[i] + PANEL_W / 2 - 200, top: 20, width: 400,
              textAlign: "center", fontSize: 40, lineHeight: "40px",
            }}
          >
            {p.year}
          </div>
          <ChartCanvas make={() => spectrumConfig(p)} left={PANEL_LEFT[i] - 100} top={50} width={745} height={400} />
          <ChartCanvas make={() => residualConfig(p)} left={PANEL_LEFT[i] - 100} top={470} width={745} height={223} />
        </React.Fragment>
      ))}
      <Legend />
      <div
        style={{
          position: "absolute", left: 45 - 250, top: 251 - 25, width: 500, height: 50, lineHeight: "50px",
          fontSize: 40, textAlign: "center", whiteSpace: "nowrap", transform: "rotate(-90deg)",
        }}
      >
        counts s<span style={sup}>{"\u22121"}</span> keV<span style={sup}>{"\u22121"}</span>
      </div>
      <div
        style={{
          position: "absolute", left: 45 - 250, top: 562 - 25, width: 500, height: 50, lineHeight: "50px",
          fontSize: 40, textAlign: "center", whiteSpace: "nowrap", transform: "rotate(-90deg)",
        }}
      >
        Residuals
      </div>
      <div
        style={{
          position: "absolute", left: 1170 - 200, top: 684, width: 400, textAlign: "center",
          fontSize: 40, lineHeight: "40px",
        }}
      >
        Energy (keV)
      </div>
    </div>
  );
}
